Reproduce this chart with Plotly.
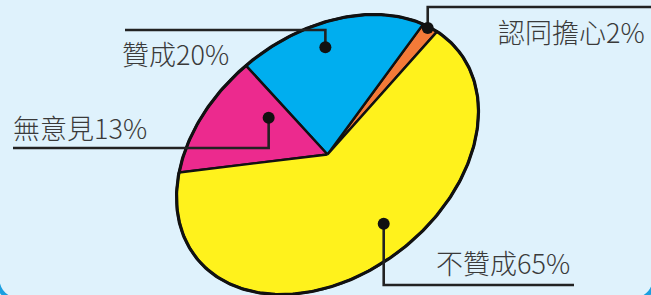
import numpy as np
import plotly.graph_objects as go

# ---------------- data ----------------
labels = ["認同擔心", "贊成", "無意見", "不贊成"]
values = [2, 20, 13, 65]
colors = ["#f47a38", "#00aeef", "#ec2a8e", "#fff21c"]

# ---------------- layout / geometry (pixels) ----------------
W, H = 651, 295
CX, CY = 327.5, 154.5          # pie centre
A, B = 167.0, 120.5            # ellipse semi axes
TILT = np.deg2rad(38.1)        # rotation of major axis
START = 14.0                   # start angle (deg, in parametric space)

# dot placement per slice: (angle offset from mid, radius fraction)
dot_cfg = [(0.8, 0.99), (4.3, 0.81), (-12.0, 0.56), (13.7, 0.74)]
# leader line: elbow y and end x ; label anchor
leader_cfg = [
    dict(ly=7, lx=651, tx=497, ty=31, xa="left"),
    dict(ly=30, lx=125, tx=121, ty=53, xa="left"),
    dict(ly=148, lx=13, tx=12, ty=127, xa="left"),
    dict(ly=285, lx=574, tx=435, ty=262, xa="left"),
]


def ell(t_deg, r=1.0):
    t = np.deg2rad(np.asarray(t_deg, dtype=float))
    u = r * A * np.cos(t)
    v = r * B * np.sin(t)
    dx = u * np.cos(TILT) - v * np.sin(TILT)
    dy = u * np.sin(TILT) + v * np.cos(TILT)
    return CX + dx, CY - dy


fig = go.Figure()

total = sum(values)
bounds = np.concatenate([[0], np.cumsum(values)]) / total * 360 + START

for i, (lab, val, col) in enumerate(zip(labels, values, colors)):
    t0, t1 = bounds[i], bounds[i + 1]
    ts = np.linspace(t0, t1, max(8, int((t1 - t0) * 2)))
    ex, ey = ell(ts)
    xs = np.concatenate([[CX], ex, [CX]])
    ys = np.concatenate([[CY], ey, [CY]])
    fig.add_trace(go.Scatter(
        x=xs, y=ys, mode="lines", fill="toself", fillcolor=col,
        line=dict(color="#111111", width=2.4), hoverinfo="skip",
        showlegend=False))

# outer outline (slightly heavier)
ts = np.linspace(0, 360, 400)
ex, ey = ell(ts)
fig.add_trace(go.Scatter(x=ex, y=ey, mode="lines",
                         line=dict(color="#111111", width=3.2),
                         hoverinfo="skip", showlegend=False))

# leader lines, dots, labels
for i, (lab, val) in enumerate(zip(labels, values)):
    mid = (bounds[i] + bounds[i + 1]) / 2
    off, rf = dot_cfg[i]
    dx, dy = ell(mid + off, rf)
    cfg = leader_cfg[i]
    fig.add_trace(go.Scatter(
        x=[dx, dx, cfg["lx"]], y=[dy, cfg["ly"], cfg["ly"]], mode="lines",
        line=dict(color="#222222", width=2.6), hoverinfo="skip",
        showlegend=False))
    fig.add_trace(go.Scatter(
        x=[dx], y=[dy], mode="markers",
        marker=dict(color="#111111", size=12), hoverinfo="skip",
        showlegend=False))
    fig.add_annotation(
        x=cfg["tx"], y=cfg["ty"], xref="x", yref="y",
        text=f"{lab}{val}%", showarrow=False, xanchor=cfg["xa"],
        yanchor="middle", borderpad=0,
        font=dict(family="Noto Sans CJK TC", size=27, color="#3a3a3a",
                  weight=300))

# rounded blue frame (only bottom corners visible)
R = 25
x0, x1, yb = -3, 655, 300
frame = (f"M {x0},-50 L {x0},{yb - R} Q {x0},{yb} {x0 + R},{yb} "
         f"L {x1 - R},{yb} Q {x1},{yb} {x1},{yb - R} L {x1},-50")
fig.add_shape(type="path", path=frame, xref="x", yref="y",
              line=dict(color="#1b9fe0", width=4), layer="below")

fig.update_layout(
    width=W, height=H, margin=dict(l=0, r=0, t=0, b=0),
    paper_bgcolor="#dff2fc", plot_bgcolor="#dff2fc",
    xaxis=dict(range=[0, W], visible=False, fixedrange=True),
    yaxis=dict(range=[H, 0], visible=False, fixedrange=True),
    showlegend=False,
)

fig.write_html(
    "out.html",
    config=dict(displayModeBar=False),
    post_script="document.body.style.margin='0';"
                "document.body.style.overflow='hidden';",
)
